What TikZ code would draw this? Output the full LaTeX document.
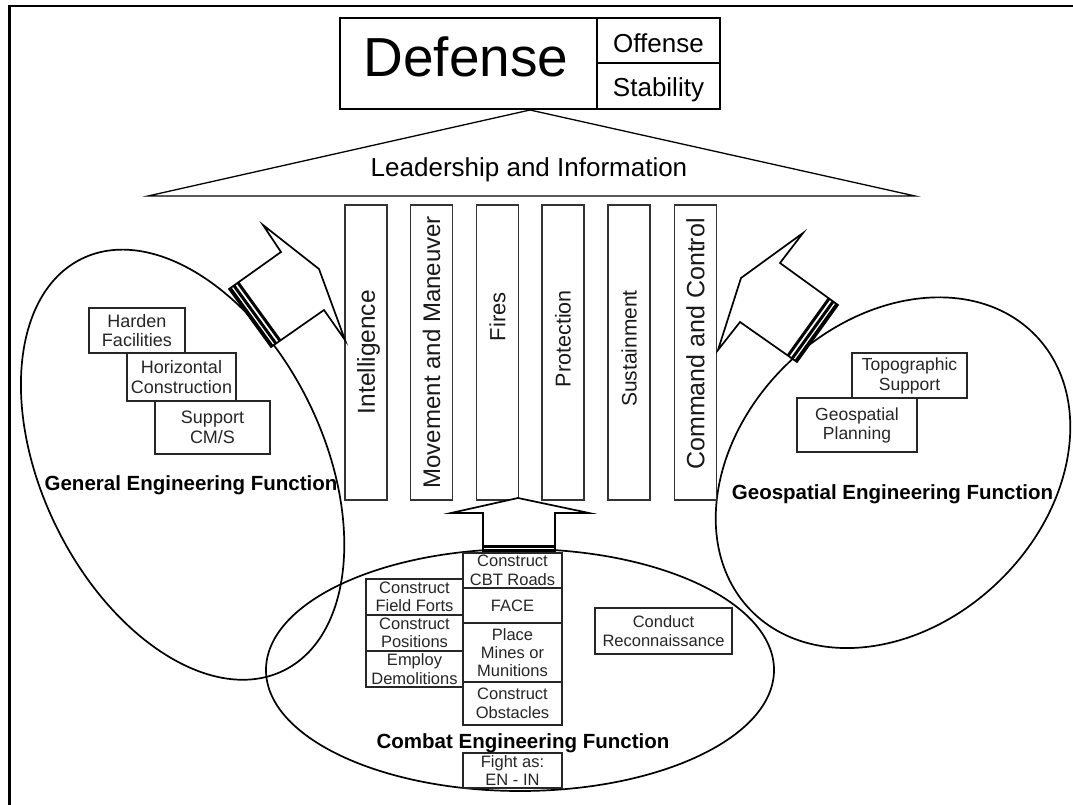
\documentclass[tikz,border=0pt]{standalone}
\usepackage{fontspec}
\setmainfont{Liberation Sans}
\usetikzlibrary{calc}
\newcommand\fsz[2]{\fontsize{#1}{#2}\selectfont}
\begin{document}
\begin{tikzpicture}[x=1pt,y=-1pt,line join=miter,
  frameline/.style={line width=2.6pt,draw=black},
  outline/.style={draw=black,line width=1.7pt},
  arrowbody/.style={draw=black,line width=1.7pt,fill=white},
  stripe/.style={draw=black,line width=3pt},
  dbox/.style={draw=black,line width=2pt,fill=white,inner sep=0pt},
  pillar/.style={draw=black!80,line width=1.3pt,fill=white,inner sep=0pt,
    minimum width=42pt,minimum height=295pt},
  plabel/.style={rotate=90,anchor=east,inner sep=0pt,text=black!90,
    font=\fsz{#1}{#1},text height=0.716*#1 pt,text depth=0pt},
  gbox/.style={draw=black!85,line width=1.5pt,fill=white,inner sep=0pt,
    align=center,text=black!85,font=\fsz{18}{19.5}},
  cbox/.style={draw=black!85,line width=1.5pt,fill=white,inner sep=0pt,
    align=center,text=black!85,font=\fsz{16.5}{18.4}},
  title/.style={inner sep=0pt,anchor=base,text=black,font=\bfseries\fsz{20.5}{22}}]

\useasboundingbox (0,0) rectangle (1073,805);
\fill[white] (0,0) rectangle (1073,805);

% frame
\draw[frameline] (1073,6.2) -- (9.7,6.2) -- (9.7,805);

% the three engineering functions
\draw[outline,rotate around={26.1:(182.6,464.7)}] (182.6,464.7) ellipse [x radius=140.7,y radius=229.3];
\draw[outline,rotate around={43.8:(893,472.7)}] (893,472.7) ellipse [x radius=197.9,y radius=151.7];
\draw[outline] (520,670) ellipse [x radius=254,y radius=121];

% Defense / Offense / Stability
\node[dbox,minimum width=257pt,minimum height=91pt] (def) at (468.5,63.5) {};
\node[dbox,minimum width=123pt,minimum height=45.5pt] (off) at (658.5,40.75) {};
\node[dbox,minimum width=123pt,minimum height=45.5pt] (stab) at (658.5,86.25) {};
\node[anchor=base,inner sep=0pt,font=\fsz{55}{55}] (deftxt) at (466,77) {Defense};
\node[anchor=base,inner sep=0pt,font=\fsz{26}{26}] (offtxt) at (658.5,53) {Offense};
\node[anchor=base,inner sep=0pt,font=\fsz{26}{26}] (stabtxt) at (658.5,97) {Stability};

% roof
\coordinate (roofL) at (148,196);
\coordinate (roofT) at (530,110);
\coordinate (roofR) at (915,196);
\draw[outline,line width=1.3pt] (roofL) -- (roofT) -- (roofR) -- cycle;
\node[anchor=base,inner sep=0pt,font=\fsz{26}{26}] (lead) at (529,177) {Leadership and Information};

% pillars
\node[pillar] (p1) at (366,352.5) {};
\node[pillar] (p2) at (431.5,352.5) {};
\node[pillar] (p3) at (497.5,352.5) {};
\node[pillar] (p4) at (563,352.5) {};
\node[pillar] (p5) at (629,352.5) {};
\node[pillar] (p6) at (695.5,352.5) {};
\node[plabel=24.5] (l1) at (366,290) {Intelligence};
\node[plabel=24] (l2) at (431.5,216) {Movement and Maneuver};
\node[plabel=22] (l3) at (497.5,292) {Fires};
\node[plabel=21.5] (l4) at (563,290) {Protection};
\node[plabel=21] (l5) at (629,290) {Sustainment};
\node[plabel=25] (l6) at (695.5,218) {Command and Control};

% left block arrow
\coordinate (la1) at (229,289);
\coordinate (la2) at (281,252);
\coordinate (la3) at (263,225);
\coordinate (la4) at (319,269);
\coordinate (la5) at (345,340);
\coordinate (la6) at (324,310);
\coordinate (la7) at (271,347);
\draw[arrowbody] (la1) -- (la2) -- (la3) -- (la4) -- (la5) -- (la6) -- (la7) -- cycle;
\foreach \d in {1.5pt,6pt,11pt}
  \draw[stripe] ($(la1)!\d!(la2)$) -- ($(la7)!\d!(la6)$);

% right block arrow
\coordinate (ra1) at (838,305);
\coordinate (ra2) at (780,263);
\coordinate (ra3) at (803,233);
\coordinate (ra4) at (741,278);
\coordinate (ra5) at (718,350);
\coordinate (ra6) at (740,322);
\coordinate (ra7) at (797,362);
\draw[arrowbody] (ra1) -- (ra2) -- (ra3) -- (ra4) -- (ra5) -- (ra6) -- (ra7) -- cycle;
\foreach \d in {1.5pt,6pt,11pt}
  \draw[stripe] ($(ra1)!\d!(ra2)$) -- ($(ra7)!\d!(ra6)$);

% centre block arrow
\coordinate (ca1) at (483,552);
\coordinate (ca2) at (483,513);
\coordinate (ca3) at (451,513);
\coordinate (ca4) at (518,498);
\coordinate (ca5) at (589,513);
\coordinate (ca6) at (555,513);
\coordinate (ca7) at (555,552);
\draw[arrowbody] (ca1) -- (ca2) -- (ca3) -- (ca4) -- (ca5) -- (ca6) -- (ca7) -- cycle;
\foreach \d in {1.5pt,5.5pt}
  \draw[stripe] ($(ca1)!\d!(ca2)$) -- ($(ca7)!\d!(ca6)$);

% general engineering
\node[gbox,minimum width=96pt,minimum height=45pt] (harden) at (137,330.5) {Harden\\Facilities};
\node[gbox,minimum width=109pt,minimum height=48pt] (horiz) at (181.5,377) {Horizontal\\Construction};
\node[gbox,minimum width=115pt,minimum height=53pt] (cms) at (212.5,427.5) {Support\\CM/S};
\node[title] (gen) at (191,490.7) {General Engineering Function};

% geospatial engineering
\node[gbox,font=\fsz{17.5}{20},minimum width=115pt,minimum height=45pt] (topo) at (909.5,375.5) {Topographic\\Support};
\node[gbox,font=\fsz{17.5}{19},minimum width=120pt,minimum height=54pt] (geoplan) at (857,425) {Geospatial\\Planning};
\node[title] (geo) at (892.5,499) {Geospatial Engineering Function};

% combat engineering
\node[cbox,minimum width=97pt,minimum height=36pt] (cff) at (414.5,597) {Construct\\Field Forts};
\node[cbox,minimum width=97pt,minimum height=36pt] (cpos) at (414.5,633) {Construct\\Positions};
\node[cbox,minimum width=97pt,minimum height=36pt] (edem) at (414.5,669) {Employ\\Demolitions};
\node[cbox,minimum width=99pt,minimum height=35pt] (cbt) at (512.5,570.5) {Construct\\CBT Roads};
\node[cbox,minimum width=99pt,minimum height=35pt] (face) at (512.5,605.5) {FACE};
\node[cbox,minimum width=99pt,minimum height=59pt] (mines) at (512.5,652.5) {Place\\Mines or\\Munitions};
\node[cbox,minimum width=99pt,minimum height=43pt] (obst) at (512.5,703.5) {Construct\\Obstacles};
\node[cbox,minimum width=99pt,minimum height=35pt] (fight) at (512.5,770.5) {Fight as:\\EN - IN};
\node[cbox,minimum width=137pt,minimum height=46pt] (recon) at (663.5,631) {Conduct\\Reconnaissance};
\node[title] (cmb) at (523,748.3) {Combat Engineering Function};
\end{tikzpicture}
\end{document}
